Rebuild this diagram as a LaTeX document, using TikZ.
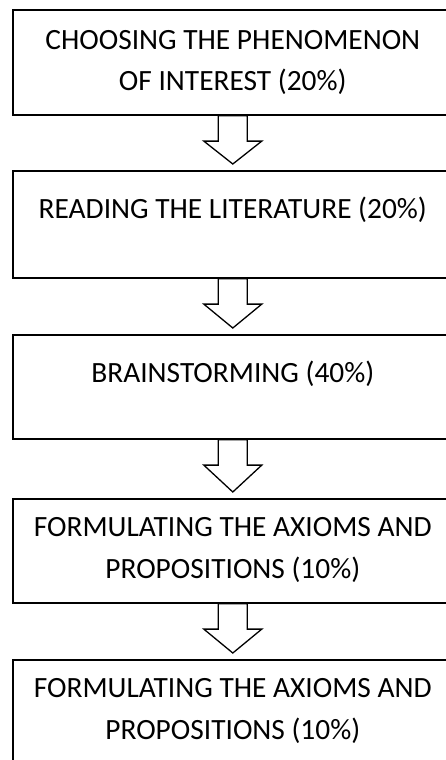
\documentclass[tikz,border=0pt]{standalone}
\usepackage{fontspec}
\setmainfont{Carlito}
\usetikzlibrary{calc}
\tikzset{
  stepbox/.style={draw=black, line width=1.6pt, inner sep=0pt, anchor=north west, fill=white},
  blockarrow/.style={draw=black, line width=1.3pt, fill=white, line join=miter}
}
\newcommand{\boxtext}[3]{\parbox[t][#1pt][t]{440pt}{\fontsize{29.4}{41.5}\selectfont\centering\rule{0pt}{#2pt}#3\par}}
\newcommand{\flowarrow}[2]{%
  \draw[blockarrow] let \p1=(#1.south), \p2=($(#2.north)+(0,-6)$) in
    (\x1-14.5pt,\y1) -- (\x1-14.5pt,\y1-25.5pt) -- (\x1-29pt,\y1-25.5pt) -- (\x1,\y2)
    -- (\x1+29pt,\y1-25.5pt) -- (\x1+14.5pt,\y1-25.5pt) -- (\x1+14.5pt,\y1) -- cycle;}
\begin{document}
\begin{tikzpicture}[x=1pt,y=-1pt]
\useasboundingbox (0,0) rectangle (446,760);
\fill[white] (0,0) rectangle (446,760);
\clip (0,0) rectangle (446,760);
\node[stepbox] (b1) at (12,9.5) {\boxtext{104.5}{38.8}{CHOOSING THE PHENOMENON\\OF INTEREST (20\%)}};
\node[stepbox] (b2) at (12,170) {\boxtext{107}{47.7}{READING THE LITERATURE (20\%)}};
\node[stepbox] (b3) at (12,334) {\boxtext{104}{48}{BRAINSTORMING (40\%)}};
\node[stepbox] (b4) at (12,498) {\boxtext{104}{37.7}{FORMULATING THE AXIOMS AND\\PROPOSITIONS (10\%)}};
\node[stepbox] (b5) at (12,659) {\boxtext{130}{38}{FORMULATING THE AXIOMS AND\\PROPOSITIONS (10\%)}};
\flowarrow{b1}{b2}
\flowarrow{b2}{b3}
\flowarrow{b3}{b4}
\flowarrow{b4}{b5}
\end{tikzpicture}
\end{document}
